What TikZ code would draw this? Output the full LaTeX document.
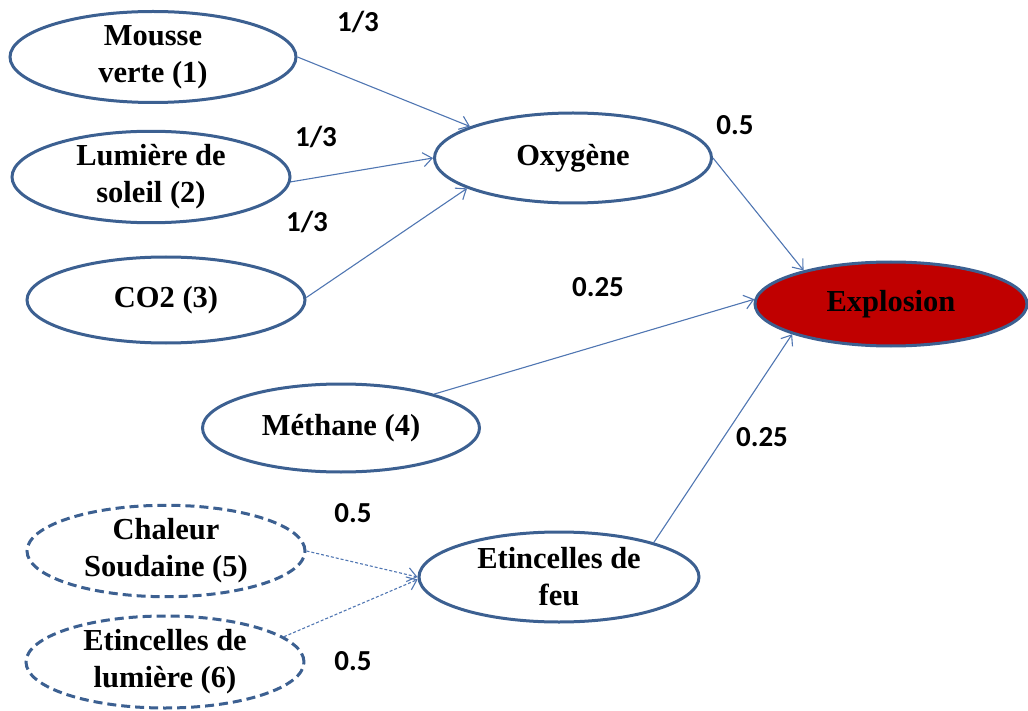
\documentclass[tikz,border=0pt]{standalone}
\usepackage{fontspec}
\setmainfont{Liberation Serif}
\newfontfamily\labfont{Carlito}
\usetikzlibrary{shapes.geometric,arrows.meta}
\definecolor{edgeblue}{RGB}{60,96,145}
\definecolor{arrowblue}{RGB}{80,118,178}
\definecolor{expred}{RGB}{192,0,0}
\tikzset{
  ell/.style={ellipse, draw=edgeblue, line width=3pt, fill=white, align=center, inner sep=0pt,
    font=\bfseries\fontsize{30.5}{37}\selectfont},
  dashell/.style={ell, dash pattern=on 9pt off 5pt},
  conn/.style={draw=arrowblue, line width=1.1pt, -{Straight Barb[length=9pt,width=14pt]}},
  dconn/.style={conn, dash pattern=on 3pt off 2pt},
  wlab/.style={font=\labfont\bfseries\fontsize{29}{31}\selectfont, inner sep=0pt}
}
\begin{document}
\begin{tikzpicture}[x=1pt,y=-1pt]
\useasboundingbox (0,0) rectangle (1028,711);
\node[ell, minimum width=286pt, minimum height=91pt] (m1) at (153,57) {Mousse\\verte (1)};
\node[ell, minimum width=278pt, minimum height=88pt] (m2) at (151,177) {Lumière de\\soleil (2)};
\node[ell, minimum width=278pt, minimum height=86pt] (m3) at (166,300) {CO2 (3)};
\node[ell, minimum width=277pt, minimum height=90pt] (oxy) at (573,158) {Oxygène};
\node[ell, fill=expred, minimum width=272pt, minimum height=84pt] (exp) at (891,304) {Explosion};
\node[ell, minimum width=277pt, minimum height=88pt] (meth) at (341,428) {Méthane (4)};
\node[dashell, minimum width=278pt, minimum height=90pt] (ch) at (166,551) {Chaleur\\Soudaine (5)};
\node[dashell, minimum width=278pt, minimum height=92pt] (et) at (165,662) {Etincelles de\\lumière (6)};
\node[ell, minimum width=280pt, minimum height=90pt] (feu) at (559,577) {Etincelles de\\feu};

\draw[conn] (m1.east) -- (oxy.163);
\draw[conn] (m2.-2) -- (oxy.180);
\draw[conn] (m3.1) -- (oxy.196);
\draw[conn] (oxy.east) -- (exp.159);
\draw[conn] (meth.20) -- (exp.178);
\draw[conn] (feu.20) -- (exp.197);
\draw[dconn] (ch.east) -- (feu.180);
\draw[dconn] (et.12) -- (feu.181);

\node[wlab] (l1) at (358,22) {1/3};
\node[wlab] (l2) at (316,137) {1/3};
\node[wlab] (l3) at (307,222) {1/3};
\node[wlab] (l4) at (735,125) {0.5};
\node[wlab] (l5) at (598,287) {0.25};
\node[wlab] (l6) at (762,437) {0.25};
\node[wlab] (l7) at (353,513) {0.5};
\node[wlab] (l8) at (353,661) {0.5};
\end{tikzpicture}
\end{document}
